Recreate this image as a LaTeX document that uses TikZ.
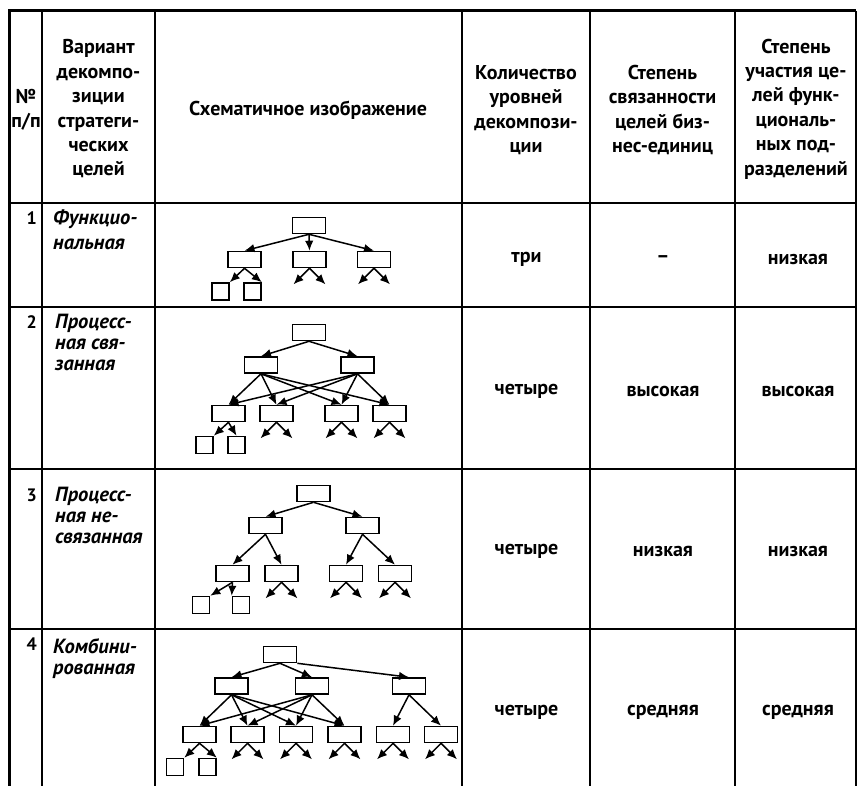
\documentclass[tikz,border=0pt]{standalone}
\usepackage{fontspec}
\setmainfont{PT Sans}
\usetikzlibrary{arrows.meta}

% two short arrows below a box
\newcommand\stubs[1]{%
  \coordinate (#1-l) at ([shift={(-16,16)}]#1.south);
  \coordinate (#1-r) at ([shift={(16,16)}]#1.south);
  \draw[arr] (#1.south) -- (#1-l);
  \draw[arr] (#1.south) -- (#1-r);}

\begin{document}
\begin{tikzpicture}[x=1pt,y=-1pt,
  goal/.style={draw,line width=1.6pt,minimum width=33pt,minimum height=16pt,inner sep=0pt},
  leaf/.style={draw,line width=1.6pt,minimum width=17pt,minimum height=17pt,inner sep=0pt},
  arr/.style={-{Latex[length=10pt,width=8.5pt]},line width=1.5pt},
  head/.style={font=\bfseries\fontsize{20}{24.4}\selectfont,align=center},
  val/.style={font=\bfseries\fontsize{20}{22}\selectfont},
  variant/.style={font=\bfseries\itshape\fontsize{20.5}{21}\selectfont,align=left,anchor=north west,inner sep=0pt},
  num/.style={font=\bfseries\fontsize{18}{20}\selectfont,anchor=base east,inner sep=0pt}]
   \useasboundingbox (0,0) rectangle (858,786);
   % table
   \draw[line width=3pt] (9,11) -- (856,11);
   \draw[line width=3pt] (9,9.5) -- (9,786);
   \foreach \y in {203,307,469,629} \draw[line width=1.6pt] (9,\y) -- (856,\y);
   \foreach \x in {42,155,462,590,735,856} \draw[line width=1.6pt] (\x,11) -- (\x,786);

   % header
   \node[head] (h1) at (26,110) {№\\п/п};
   \node[head] (h2) at (98.5,109) {Вариант\\декомпо-\\зиции\\стратеги-\\ческих\\целей};
   \node[head] (h3) at (308,110) {Схематичное изображение};
   \node[head] (h4) at (526,110) {Количество\\уровней\\декомпози-\\ции};
   \node[head] (h5) at (662.5,110) {Степень\\связанности\\целей биз-\\нес-единиц};
   \node[head] (h6) at (796,109) {Степень\\участия це-\\лей функ-\\циональ-\\ных под-\\разделений};

   % numbers and names
   \node[num] (n1) at (37,224) {1};
   \node[num] (n2) at (37,328) {2};
   \node[num] (n3) at (37,501) {3};
   \node[num] (n4) at (37,650) {4};
   \node[variant,font=\bfseries\itshape\fontsize{20.5}{24.5}\selectfont] (v1) at (53,210) {Функцио-\\нальная};
   \node[variant] (v2) at (55,314) {Процесс-\\ная свя-\\занная};
   \node[variant] (v3) at (55,487) {Процесс-\\ная не-\\связанная};
   \node[variant] (v4) at (53,638) {Комбини-\\рованная};

   % values
   \node[val] (a1) at (526.5,259) {три};
   \node[val] (b1) at (663,259) {--};
   \node[val] (c1) at (798,259) {низкая};
   \node[val] (a2) at (526.5,391) {четыре};
   \node[val] (b2) at (663,391) {высокая};
   \node[val] (c2) at (798,391) {высокая};
   \node[val] (a3) at (526.5,551) {четыре};
   \node[val] (b3) at (663,551) {низкая};
   \node[val] (c3) at (798,551) {низкая};
   \node[val] (a4) at (526.5,712) {четыре};
   \node[val] (b4) at (663,712) {средняя};
   \node[val] (c4) at (798,712) {средняя};

   % 1: functional
   \node[goal] (f0) at (309,225.5) {};
   \node[goal] (f1) at (244.5,259.5) {};
   \node[goal] (f2) at (309.5,259.5) {};
   \node[goal] (f3) at (374,259.5) {};
   \node[leaf] (f1a) at (220.5,291.5) {};
   \node[leaf] (f1b) at (252.5,291.5) {};
   \foreach \c in {f1,f2,f3} \draw[arr] (f0.south) -- (\c.north);
   \draw[arr] (f1.south) -- (f1a.north east);
   \draw[arr] (f1.south) -- (f1b.north east);
   \stubs{f2} \stubs{f3}

   % 2: process, linked
   \node[goal] (s0) at (309,332.5) {};
   \node[goal] (s1) at (261,365) {};
   \node[goal] (s2) at (357.5,365) {};
   \node[goal] (s3) at (228.5,413.5) {};
   \node[goal] (s4) at (276.5,413.5) {};
   \node[goal] (s5) at (341.5,413.5) {};
   \node[goal] (s6) at (389.5,413.5) {};
   \node[leaf] (s3a) at (204.5,445) {};
   \node[leaf] (s3b) at (236.5,445) {};
   \foreach \c in {s1,s2} \draw[arr] (s0.south) -- (\c.north);
   \foreach \p in {s1,s2} \foreach \c in {s3,s4,s5,s6} \draw[arr] (\p.south) -- (\c.north);
   \draw[arr] (s3.south) -- (s3a.north east);
   \draw[arr] (s3.south) -- (s3b.north);
   \stubs{s4} \stubs{s5} \stubs{s6}

   % 3: process, not linked
   \node[goal] (u0) at (313.5,493.5) {};
   \node[goal] (u1) at (265.5,525.5) {};
   \node[goal] (u2) at (362.5,525.5) {};
   \node[goal] (u3) at (232.5,573.5) {};
   \node[goal] (u4) at (281.5,573.5) {};
   \node[goal] (u5) at (346,573.5) {};
   \node[goal] (u6) at (395,573.5) {};
   \node[leaf] (u3a) at (201,605) {};
   \node[leaf] (u3b) at (241,605) {};
   \foreach \c in {u1,u2} \draw[arr] (u0.south) -- (\c.north);
   \foreach \c in {u3,u4} \draw[arr] (u1.south) -- (\c.north);
   \foreach \c in {u5,u6} \draw[arr] (u2.south) -- (\c.north);
   \draw[arr] (u3.south) -- (u3a.north east);
   \draw[arr] (u3.south) -- (u3b.north west);
   \stubs{u4} \stubs{u5} \stubs{u6}

   % 4: combined
   \node[goal] (k0) at (280,654.5) {};
   \node[goal] (k1) at (231.5,686) {};
   \node[goal] (k2) at (312,686) {};
   \node[goal] (k3) at (409,686) {};
   \foreach \c/\x in {k4/199.5,k5/247.5,k6/296,k7/344.5,k8/393,k9/441}
     \node[goal] (\c) at (\x,734.5) {};
   \node[leaf] (k4a) at (175,767) {};
   \node[leaf] (k4b) at (207.5,767) {};
   \foreach \c in {k1,k2} \draw[arr] (k0.south) -- (\c.north);
   \draw[arr] (k0.south east) -- (k3.north);
   \foreach \p in {k1,k2} \foreach \c in {k4,k5,k6,k7} \draw[arr] (\p.south) -- (\c.north);
   \foreach \c in {k8,k9} \draw[arr] (k3.south) -- (\c.north);
   \draw[arr] (k4.south) -- (k4a.north east);
   \draw[arr] (k4.south) -- (k4b.north east);
   \stubs{k5} \stubs{k6} \stubs{k7} \stubs{k8} \stubs{k9}
\end{tikzpicture}
\end{document}
